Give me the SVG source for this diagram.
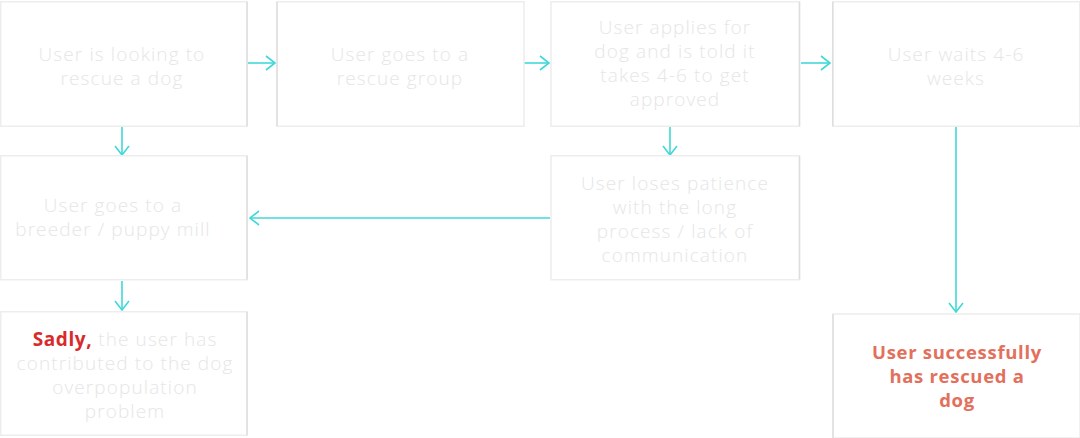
<svg xmlns="http://www.w3.org/2000/svg" width="1080" height="438" viewBox="0 0 1080 438">
<defs>
<style>
.box{fill:#ffffff;stroke:#ededed;stroke-width:1.5}
.edge{stroke:#dedede;stroke-width:1.5}
.t{font-family:"Open Sans","Liberation Sans",sans-serif;font-weight:300;font-size:19px;letter-spacing:1.1px;fill:#e6e6e6;text-anchor:middle}
.red{font-weight:700;fill:#d92a2a;letter-spacing:0.6px}
.ok{font-family:"Open Sans","Liberation Sans",sans-serif;font-weight:700;font-size:18.5px;letter-spacing:0.7px;fill:#e2705c;text-anchor:middle}
.c{stroke:#40d8d8;stroke-width:1.6;fill:none}
</style>
<marker id="ah" viewBox="0 0 14 16" refX="13" refY="8" markerWidth="14" markerHeight="16" markerUnits="userSpaceOnUse" orient="auto">
<path d="M4,1 L13,8 L4,15" fill="none" stroke="#40d8d8" stroke-width="1.6"/>
</marker>
</defs>
<rect width="1080" height="438" fill="#ffffff"/>
<g id="connectors">
<line class="c" x1="248" y1="63" x2="275" y2="63" marker-end="url(#ah)"/>
<line class="c" x1="524" y1="63" x2="549" y2="63" marker-end="url(#ah)"/>
<line class="c" x1="801" y1="63" x2="830" y2="63" marker-end="url(#ah)"/>
<line class="c" x1="122" y1="127" x2="122" y2="155" marker-end="url(#ah)"/>
<line class="c" x1="670" y1="127" x2="670" y2="155" marker-end="url(#ah)"/>
<line class="c" x1="550" y1="218" x2="250" y2="218" marker-end="url(#ah)"/>
<line class="c" x1="122" y1="281" x2="122" y2="310" marker-end="url(#ah)"/>
<line class="c" x1="956" y1="127" x2="956" y2="312" marker-end="url(#ah)"/>
</g>
<g id="n1">
<rect class="box" x="0.75" y="1.75" width="246.5" height="124.5"/>
<line class="edge" x1="247" y1="2" x2="247" y2="126"/>
<text class="t" x="122" y="61">User is looking to</text>
<text class="t" x="122" y="85">rescue a dog</text>
</g>
<g id="n2">
<rect class="box" x="277" y="1.75" width="247" height="124.5"/>
<line class="edge" x1="277" y1="2" x2="277" y2="126"/>
<text class="t" x="400" y="61">User goes to a</text>
<text class="t" x="400" y="85">rescue group</text>
</g>
<g id="n3">
<rect class="box" x="551" y="1.75" width="248.5" height="124.5"/>
<line class="edge" x1="799.5" y1="2" x2="799.5" y2="126"/>
<text class="t" x="675" y="34">User applies for</text>
<text class="t" x="675" y="58">dog and is told it</text>
<text class="t" x="675" y="82">takes 4-6 to get</text>
<text class="t" x="675" y="106">approved</text>
</g>
<g id="n4">
<rect class="box" x="832.75" y="1.75" width="247" height="124.5"/>
<line class="edge" x1="832.75" y1="2" x2="832.75" y2="126"/>
<text class="t" x="956" y="61">User waits 4-6</text>
<text class="t" x="956" y="85">weeks</text>
</g>
<g id="n5">
<rect class="box" x="0.75" y="155.75" width="246.5" height="124"/>
<line class="edge" x1="247" y1="156" x2="247" y2="279.5"/>
<text class="t" x="113" y="212">User goes to a</text>
<text class="t" x="113" y="236">breeder / puppy mill</text>
</g>
<g id="n6">
<rect class="box" x="551" y="155.75" width="248.5" height="124"/>
<line class="edge" x1="799.5" y1="156" x2="799.5" y2="279.5"/>
<text class="t" x="675" y="190">User loses patience</text>
<text class="t" x="675" y="214">with the long</text>
<text class="t" x="675" y="238">process / lack of</text>
<text class="t" x="675" y="262">communication</text>
</g>
<g id="n7">
<rect class="box" x="0.75" y="311.75" width="246.5" height="123.5"/>
<line class="edge" x1="247" y1="312" x2="247" y2="435"/>
<text class="t" x="125" y="346"><tspan class="red">Sadly,</tspan> the user has</text>
<text class="t" x="125" y="370">contributed to the dog</text>
<text class="t" x="125" y="394">overpopulation</text>
<text class="t" x="125" y="418">problem</text>
</g>
<g id="n8">
<rect class="box" x="833" y="314" width="247" height="124"/>
<line class="edge" x1="833" y1="314" x2="833" y2="438"/>
<text class="ok" x="957" y="359">User successfully</text>
<text class="ok" x="957" y="383">has rescued a</text>
<text class="ok" x="957" y="407">dog</text>
</g>
</svg>
